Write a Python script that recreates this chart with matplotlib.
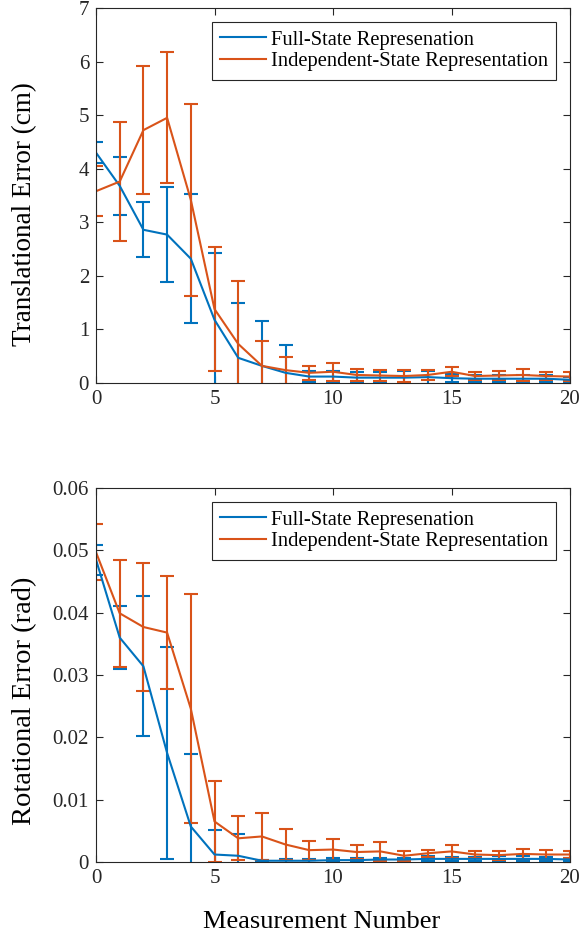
import numpy as np
import matplotlib
matplotlib.use("Agg")
import matplotlib.pyplot as plt
from matplotlib.lines import Line2D

# =========================================================
# DATA
# =========================================================

meas = np.arange(21)

full_trans_mean = [4.30, 3.68, 2.86, 2.77, 2.32, 1.18, 0.47, 0.32, 0.19, 0.12, 0.12,
                   0.10, 0.10, 0.10, 0.11, 0.09, 0.08, 0.08, 0.08, 0.08, 0.06]
full_trans_err = [0.20, 0.54, 0.51, 0.88, 1.20, 1.25, 1.02, 0.83, 0.51, 0.10, 0.11,
                  0.10, 0.10, 0.13, 0.12, 0.08, 0.07, 0.07, 0.07, 0.07, 0.06]

ind_trans_mean = [3.58, 3.76, 4.72, 4.95, 3.42, 1.38, 0.73, 0.32, 0.24, 0.19, 0.21,
                  0.15, 0.14, 0.13, 0.15, 0.21, 0.13, 0.14, 0.15, 0.13, 0.12]
ind_trans_err = [0.47, 1.11, 1.19, 1.22, 1.79, 1.16, 1.18, 0.46, 0.25, 0.13, 0.17,
                 0.11, 0.10, 0.11, 0.09, 0.08, 0.08, 0.08, 0.11, 0.08, 0.08]

full_rot_mean = [0.0485, 0.0360, 0.0314, 0.0175, 0.0057, 0.0012, 0.0010, 0.0002, 0.0002,
                 0.0002, 0.0003, 0.0003, 0.0004, 0.0004, 0.0005, 0.0005, 0.0005, 0.0005,
                 0.0005, 0.0005, 0.0004]
full_rot_err = [0.0024, 0.0050, 0.0112, 0.0170, 0.0117, 0.0039, 0.0035, 0.0002, 0.0003,
                0.0003, 0.0003, 0.0003, 0.0003, 0.0003, 0.0004, 0.0003, 0.0003, 0.0004,
                0.0004, 0.0003, 0.0003]

ind_rot_mean = [0.0497, 0.0399, 0.0377, 0.0368, 0.0246, 0.0065, 0.0038, 0.0041, 0.0028,
                0.0019, 0.0020, 0.0016, 0.0017, 0.0010, 0.0014, 0.0017, 0.0012, 0.0011,
                0.0013, 0.0012, 0.0012]
ind_rot_err = [0.0045, 0.0086, 0.0103, 0.0091, 0.0184, 0.0065, 0.0035, 0.0037, 0.0025,
               0.0015, 0.0017, 0.0011, 0.0015, 0.0008, 0.0006, 0.0010, 0.0006, 0.0007,
               0.0008, 0.0007, 0.0005]

labels = ["Full-State Represenation", "Independent-State Representation"]

x_ticks = [0, 5, 10, 15, 20]
trans_ticks = [0, 1, 2, 3, 4, 5, 6, 7]
rot_ticks = [0, 0.01, 0.02, 0.03, 0.04, 0.05, 0.06]
rot_tick_labels = ["0", "0.01", "0.02", "0.03", "0.04", "0.05", "0.06"]

# =========================================================
# STYLE
# =========================================================

plt.rcParams["font.family"] = ["Liberation Serif", "DejaVu Serif"]

blue = "#0072BD"
orange = "#D95319"
axis_col = "#262626"

fig = plt.figure(figsize=(5.88, 9.39), dpi=100)
ax_t = fig.add_axes([96 / 588, 1 - 383 / 939, 474 / 588, 375 / 939])
ax_r = fig.add_axes([96 / 588, 1 - 862 / 939, 474 / 588, 374 / 939])


def draw(ax, m1, e1, m2, e2):
    for m, e, c in [(m1, e1, blue), (m2, e2, orange)]:
        ax.errorbar(meas, m, yerr=e, color=c, lw=1.5, elinewidth=1.5,
                    capsize=5, capthick=1.5)
    ax.set_xlim(0, 20)
    ax.set_xticks(x_ticks)
    ax.tick_params(direction="in", top=True, right=True, length=5,
                   width=0.8, color=axis_col, labelsize=15, labelcolor=axis_col,
                   pad=5)
    for s in ax.spines.values():
        s.set_color(axis_col)
        s.set_linewidth(0.8)
    handles = [Line2D([], [], color=blue, lw=1.5), Line2D([], [], color=orange, lw=1.5)]
    leg = ax.legend(handles, labels, loc="upper right", fontsize=14.8,
                    fancybox=False, framealpha=1, edgecolor=axis_col,
                    handlelength=2.2, handletextpad=0.25, borderpad=0.4,
                    labelspacing=0.12, borderaxespad=0.68)
    leg.get_frame().set_linewidth(0.8)


draw(ax_t, full_trans_mean, full_trans_err, ind_trans_mean, ind_trans_err)
ax_t.set_ylim(0, 7)
ax_t.set_yticks(trans_ticks)
ax_t.set_ylabel("Translational Error (cm)", fontsize=19.5)
ax_t.yaxis.set_label_coords(-0.125, 0.45)

draw(ax_r, full_rot_mean, full_rot_err, ind_rot_mean, ind_rot_err)
ax_r.set_ylim(0, 0.06)
ax_r.set_yticks(rot_ticks)
ax_r.set_yticklabels(rot_tick_labels)
ax_r.set_ylabel("Rotational Error (rad)", fontsize=20.5)
ax_r.yaxis.set_label_coords(-0.125, 0.43)
ax_r.set_xlabel("Measurement Number", fontsize=19)
ax_r.xaxis.set_label_coords(0.475, -0.13)

fig.savefig("out.png", dpi=100)
plt.close("all")
